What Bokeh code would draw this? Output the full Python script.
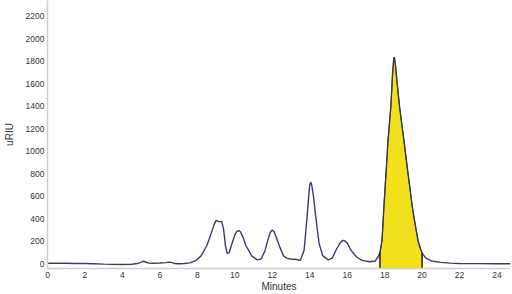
import numpy as np
from bokeh.plotting import figure
from bokeh.models import FixedTicker, Range1d
from bokeh.embed import file_html
from bokeh.resources import INLINE

# Chromatogram (retention time in minutes, signal in uRIU)
minutes = [0.0, 0.5, 1.0, 1.5, 2.0, 2.5, 3.0, 3.5, 4.0, 4.5, 4.8, 5.0, 5.1, 5.2, 5.4,
           5.7, 6.0, 6.3, 6.5, 6.6, 6.8, 7.0, 7.3, 7.6, 7.9, 8.2, 8.5, 8.7, 8.9, 9.0,
           9.1, 9.2, 9.3, 9.4, 9.5, 9.6, 9.7, 9.85, 10.0, 10.1, 10.2, 10.3, 10.45, 10.6,
           10.9, 11.2, 11.4, 11.6, 11.8, 11.9, 12.0, 12.1, 12.25, 12.4, 12.6, 12.8, 13.0,
           13.3, 13.5, 13.7, 13.85, 13.95, 14.0, 14.05, 14.1, 14.2, 14.3, 14.5, 14.7, 15.0,
           15.2, 15.4, 15.6, 15.7, 15.8, 15.9, 16.0, 16.2, 16.5, 16.8, 17.2, 17.5, 17.65,
           17.75, 17.86, 17.96, 18.08, 18.18, 18.33, 18.42, 18.47, 18.5, 18.53, 18.58,
           18.66, 18.8, 19.03, 19.25, 19.48, 19.65, 19.78, 19.9, 20.0, 20.2, 20.5, 21.0,
           21.5, 22.0, 23.0, 24.0, 24.72]
uriu = [5, 5, 4, 3, 2, 0, -3, -5, -6, -4, 2, 15, 22, 18, 6,
        5, 7, 10, 15, 12, 2, 0, 2, 8, 25, 70, 160, 250, 350, 385,
        378, 372, 376, 310, 160, 90, 100, 180, 255, 285, 295, 285, 230, 160,
        70, 35, 42, 110, 230, 280, 300, 285, 220, 150, 70, 48, 42,
        38, 30, 120, 400, 610, 700, 725, 705, 600, 450, 180, 70, 35,
        50, 120, 180, 200, 207, 200, 185, 120, 60, 30, 18, 25, 60,
        100, 207, 503, 820, 1095, 1390, 1680, 1790, 1835, 1820, 1760,
        1620, 1390, 1095, 800, 503, 330, 207, 140, 95, 50, 25, 12,
        6, 3, 1, 0, 0]

cut_start = 17.75
cut_end = 20.0
x_ticks = list(range(0, 25, 2))
y_ticks = list(range(0, 2201, 200))

y_min, y_max = -42, 2338
x_min, x_max = 0, 24.72

t = np.array(minutes, dtype=float)
v = np.array(uriu, dtype=float)
mask = (t >= cut_start) & (t <= cut_end)

p = figure(width=512, height=294, output_backend="svg", toolbar_location=None,
           x_range=Range1d(x_min, x_max), y_range=Range1d(y_min, y_max),
           min_border_left=10, min_border_right=2, min_border_top=0, min_border_bottom=10)
p.outline_line_color = None
p.xgrid.visible = False
p.ygrid.visible = False
p.background_fill_color = "white"
p.border_fill_color = "white"

# yellow collected fraction
p.varea(x=t[mask], y1=y_min, y2=v[mask], fill_color="#f2e01c")
p.line(t, v, line_color="#3c3a72", line_width=1.4)
p.line(t[mask], v[mask], line_color="#3a3a30", line_width=1.0)
edge_vals = np.interp([cut_start, cut_end], t, v)
p.segment(x0=[cut_start, cut_end], y0=[y_min, y_min], x1=[cut_start, cut_end], y1=edge_vals,
          line_color="#111111", line_width=1.4)

for ax in (p.xaxis[0], p.yaxis[0]):
    ax.axis_line_color = "#cfcfcf"
    ax.axis_line_width = 1.5
    ax.major_tick_line_color = None
    ax.minor_tick_line_color = None
    ax.major_tick_out = 0
    ax.major_tick_in = 0
    ax.minor_tick_out = 0
    ax.minor_tick_in = 0
    ax.major_label_text_font = "Liberation Sans"
    ax.major_label_text_font_size = "8.5px"
    ax.major_label_text_color = "#333333"
    ax.axis_label_text_font = "Liberation Sans"
    ax.axis_label_text_font_size = "10px"
    ax.axis_label_text_font_style = "normal"
    ax.axis_label_text_color = "#333333"

p.xaxis.ticker = FixedTicker(ticks=x_ticks)
p.yaxis.ticker = FixedTicker(ticks=y_ticks)
p.xaxis.axis_label = "Minutes"
p.yaxis.axis_label = "uRIU"
p.xaxis.major_label_standoff = 3
p.xaxis.axis_label_standoff = 0
p.yaxis.major_label_standoff = 3
p.yaxis.axis_label_standoff = 8

open("out.html", "w").write(file_html(p, INLINE))
